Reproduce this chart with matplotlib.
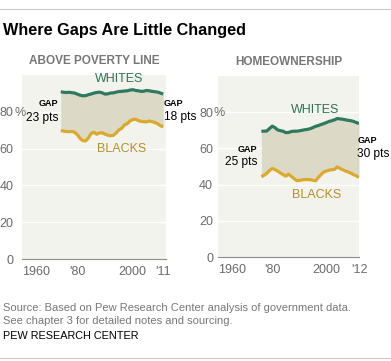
import matplotlib
matplotlib.use("Agg")
import matplotlib.pyplot as plt
from matplotlib.lines import Line2D

plt.rcParams['font.family'] = ['Liberation Sans', 'DejaVu Sans']

# Above poverty line (%), 1974-2011
pov_years = list(range(1974, 2012))
pov_whites = [90.9, 90.6, 90.5, 90.6, 90.4, 90.2, 89.6, 89.0, 88.7, 88.8,
              89.3, 89.7, 90.2, 90.5, 90.7, 90.3, 89.6, 89.8, 90.2, 90.3,
              90.7, 91.0, 91.1, 91.3, 91.4, 91.8, 92.0, 91.6, 91.4, 91.1,
              91.2, 91.6, 91.4, 91.1, 90.9, 90.7, 90.2, 89.6]
pov_blacks = [69.8, 69.5, 69.3, 69.2, 69.3, 68.9, 67.5, 65.5, 64.3, 64.2,
              65.8, 68.3, 68.8, 67.8, 68.5, 68.6, 67.8, 67.3, 67.0, 67.2,
              68.5, 70.2, 71.0, 72.9, 73.5, 75.0, 75.8, 76.0, 75.2, 74.8,
              74.6, 74.5, 75.0, 74.6, 74.2, 73.5, 72.4, 71.8]

# Homeownership (%), 1976-2012
home_years = list(range(1976, 2013))
home_whites = [69.5, 69.5, 69.6, 71.0, 72.3, 71.5, 70.2, 69.8, 69.5, 68.7,
               68.8, 69.3, 69.5, 69.5, 69.7, 70.0, 70.3, 70.5, 70.9, 71.5,
               72.2, 72.6, 73.2, 73.7, 74.3, 74.9, 75.3, 75.8, 76.5, 76.3,
               76.1, 75.8, 75.5, 75.3, 74.9, 74.3, 73.7]
home_blacks = [44.3, 45.2, 46.2, 47.8, 48.9, 48.3, 47.5, 46.4, 45.5, 44.7,
               45.8, 44.6, 43.4, 42.2, 42.3, 42.6, 42.8, 42.8, 42.7, 42.4,
               42.1, 44.0, 45.5, 47.0, 47.5, 48.0, 48.2, 48.4, 49.8, 48.9,
               48.2, 47.5, 47.0, 46.3, 45.5, 44.8, 44.0]

pov_xticks = [1960, 1980, 2000, 2011]
pov_xlabels = ["1960", "'80", "2000", "'11"]
home_xticks = [1960, 1980, 2000, 2012]
home_xlabels = ["1960", "'80", "2000", "'12"]
yticks = [0, 20, 40, 60, 80]
ylabels = ["0", "20", "40", "60", "80"]

BG = "#f3f3ed"
FILL = "#dcd9c6"
GREEN = "#2e7a5e"
GOLD = "#d9aa2f"
GREEN_T = "#2f7259"
GOLD_T = "#b48f2c"
GRAY = "#6b6b6b"

fig = plt.figure(figsize=(3.91, 3.61), dpi=100)
W, H = 391, 361

def px_axes(x0, x1, ytop, ybot):
    return fig.add_axes([x0 / W, (H - ybot) / H, (x1 - x0) / W, (ybot - ytop) / H])

def setup(ax, years, whites, blacks, xticks, xlabels, ypad):
    ax.set_facecolor(BG)
    ax.set_xlim(1960, 2012)
    ax.set_ylim(0, 100)
    for s in ['top', 'right', 'left']:
        ax.spines[s].set_visible(False)
    ax.spines['bottom'].set_color("#8c8c8c")
    ax.spines['bottom'].set_linewidth(0.8)
    ax.set_yticks(yticks)
    ax.set_yticklabels(ylabels)
    ax.tick_params(axis='y', length=0, pad=ypad, labelsize=9, labelcolor=GRAY)
    ax.set_xticks(xticks)
    ax.set_xticklabels(xlabels)
    ax.set_xticks([xticks[0], xticks[-1]], minor=True)
    ax.tick_params(axis='x', which='major', length=0, pad=5, labelsize=9,
                   labelcolor=GRAY)
    ax.tick_params(axis='x', which='minor', length=4, color="#8c8c8c", width=0.8)
    ax.get_xticklabels()[0].set_horizontalalignment('left')
    for y in yticks[1:]:
        ax.axhline(y, color="white", lw=1.0, zorder=1)
    ax.fill_between(years, blacks, whites, color=FILL, zorder=2, lw=0)
    ax.plot(years, whites, color=GREEN, lw=2.3, zorder=3, solid_capstyle='butt')
    ax.plot(years, blacks, color=GOLD, lw=2.3, zorder=3, solid_capstyle='butt')

ax1 = px_axes(22, 166, 75, 259)
setup(ax1, pov_years, pov_whites, pov_blacks, pov_xticks, pov_xlabels, 6)
ax2 = px_axes(218, 359, 76, 257)
setup(ax2, home_years, home_whites, home_blacks, home_xticks, home_xlabels, 3.5)

# percent signs hanging after the 80 labels
fig.text(14.5 / W, 1 - 112 / H, "%", fontsize=9, color=GRAY, ha='left',
         va='center_baseline')
fig.text(213.5 / W, 1 - 112 / H, "%", fontsize=9, color=GRAY, ha='left',
         va='center_baseline')

# panel titles
fig.text(94 / W, 1 - 61 / H, "ABOVE POVERTY LINE", fontsize=8.5, fontweight='bold',
         color="#777777", ha='center', va='center')
fig.text(289 / W, 1 - 62 / H, "HOMEOWNERSHIP", fontsize=8.5, fontweight='bold',
         color="#777777", ha='center', va='center')

# series labels
ax1.text(1995, 98, "WHITES", color=GREEN_T, fontsize=9, ha='center', va='center')
ax1.text(1996, 60, "BLACKS", color=GOLD_T, fontsize=9, ha='center', va='center')
ax2.text(1995.7, 81, "WHITES", color=GREEN_T, fontsize=9, ha='center', va='center')
ax2.text(1996.4, 34, "BLACKS", color=GOLD_T, fontsize=9, ha='center', va='center')

# gap annotations
def gap(ax, x, y1, y2, pts, ha):
    ax.text(x, y1, "GAP", fontsize=6.5, fontweight='bold', ha=ha, va='center',
            color="black", clip_on=False)
    ax.text(x, y2, pts, fontsize=8.6, ha=ha, va='center', color="black", clip_on=False)

gap(ax1, 1973, 84.4, 76.7, "23 pts", 'right')
gap(ax1, 2011.3, 84.4, 77.2, "18 pts", 'left')
gap(ax2, 1974.4, 59.6, 52.6, "25 pts", 'right')
gap(ax2, 2011.4, 64.6, 56.8, "30 pts", 'left')

# header / footer
fig.add_artist(Line2D([0, 1], [1 - 9 / H, 1 - 9 / H], color="#c8c8c8", lw=0.8))
fig.text(3 / W, 1 - 30 / H, "Where Gaps Are Little Changed", fontsize=11.7,
         fontweight='bold', ha='left', va='center', color="black")
fig.text(3 / W, 1 - 308 / H, "Source: Based on Pew Research Center analysis of government data.",
         fontsize=8, color="#777777", ha='left', va='center')
fig.text(3 / W, 1 - 321 / H, "See chapter 3 for detailed notes and sourcing.",
         fontsize=8, color="#777777", ha='left', va='center')
fig.text(3 / W, 1 - 336 / H, "PEW RESEARCH CENTER", fontsize=7.8, color="black",
         ha='left', va='center')
fig.add_artist(Line2D([0, 1], [1 - 358 / H, 1 - 358 / H], color="#c8c8c8", lw=0.8))

fig.savefig("out.png", dpi=100, facecolor="white")
